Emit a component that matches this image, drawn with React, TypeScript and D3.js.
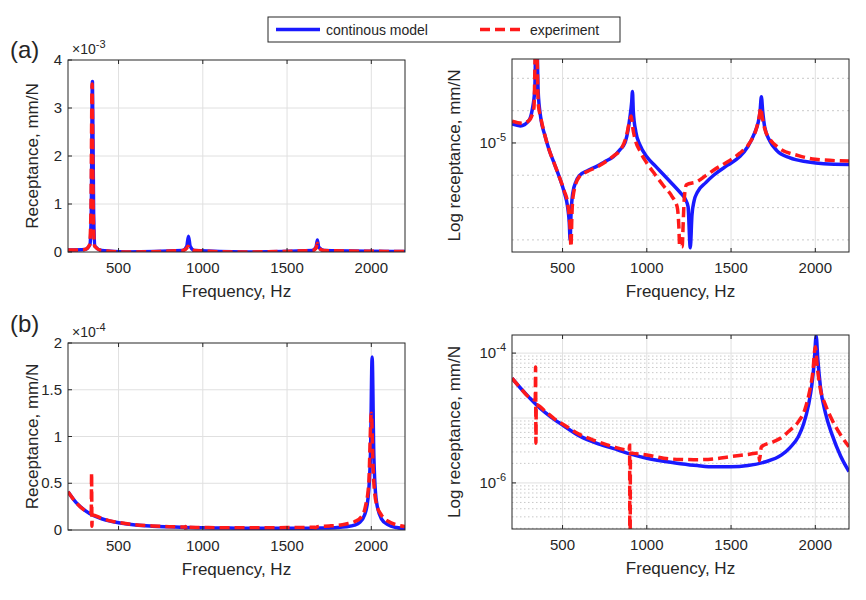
import React from "react";
import * as d3 from "d3";

// Top row (a): linear receptance (x1e-3 mm/N)
const aLinModel: [number, number][] = [[200,0.04],[300,0.05],[330,0.15],[338,0.8],[345,3.55],[352,0.8],[360,0.12],[400,0.03],[545,0.0],[880,0.03],[905,0.12],[915,0.33],[925,0.12],[950,0.03],[1250,0],[1650,0.03],[1672,0.1],[1680,0.25],[1688,0.1],[1720,0.03],[2200,0.01]];
const aLinExp: [number, number][] = [[200,0.04],[300,0.05],[328,0.15],[336,0.8],[343,3.5],[350,0.8],[358,0.12],[400,0.03],[550,0.0],[880,0.03],[905,0.08],[912,0.12],[922,0.06],[950,0.03],[1200,0],[1650,0.03],[1672,0.08],[1680,0.18],[1690,0.08],[1720,0.03],[2200,0.01]];
// Top row (a): log receptance (mm/N)
const aLogModel: [number, number][] = [[200,1.57e-5],[250,1.5e-5],[300,1.7e-5],[320,2.2e-5],[335,3.5e-5],[345,2e-4],[355,3.5e-5],[370,1.85e-5],[395,1.2e-5],[420,8.5e-6],[450,6.2e-6],[480,4.5e-6],[510,3.1e-6],[530,2.2e-6],[540,1.5e-6],[545,1.0e-6],[550,1.8e-6],[560,3.0e-6],[580,4.0e-6],[600,4.6e-6],[650,5.2e-6],[700,5.7e-6],[750,6.4e-6],[800,7.2e-6],[840,8.5e-6],[870,1.0e-5],[890,1.4e-5],[900,1.85e-5],[910,2.6e-5],[915,3.4e-5],[920,2.1e-5],[935,1.3e-5],[960,9.5e-6],[1000,7.2e-6],[1050,5.8e-6],[1100,4.7e-6],[1150,3.8e-6],[1200,3.05e-6],[1230,2.6e-6],[1245,2.2e-6],[1258,8.3e-7],[1268,1.8e-6],[1280,2.5e-6],[1300,3.1e-6],[1350,3.9e-6],[1400,4.7e-6],[1480,5.9e-6],[1550,7.2e-6],[1600,9.2e-6],[1640,1.27e-5],[1660,1.6e-5],[1672,2.1e-5],[1680,3.0e-5],[1688,2.1e-5],[1700,1.45e-5],[1730,1.05e-5],[1770,8.4e-6],[1850,7.0e-6],[1950,6.4e-6],[2050,6.1e-6],[2200,6.0e-6]];
const aLogExp: [number, number][] = [[200,1.68e-5],[260,1.6e-5],[300,1.7e-5],[330,2.3e-5],[343,2e-4],[356,2.5e-5],[370,1.85e-5],[395,1.2e-5],[420,8.5e-6],[450,6.2e-6],[480,4.5e-6],[510,3.2e-6],[530,2.4e-6],[545,1.3e-6],[550,8.5e-7],[556,1.9e-6],[565,3.0e-6],[600,4.5e-6],[650,5.1e-6],[700,5.6e-6],[800,7.3e-6],[850,8.8e-6],[880,1.2e-5],[900,1.75e-5],[908,1.9e-5],[915,1.5e-5],[930,1.1e-5],[960,8.2e-6],[1000,6.2e-6],[1050,4.7e-6],[1100,3.6e-6],[1150,2.8e-6],[1180,2.2e-6],[1190,1.4e-6],[1195,8.5e-7],[1210,8.5e-7],[1216,1.5e-6],[1222,2.6e-6],[1235,3.7e-6],[1300,4.0e-6],[1350,4.6e-6],[1400,5.3e-6],[1480,6.4e-6],[1550,7.8e-6],[1610,1.0e-5],[1650,1.4e-5],[1668,1.9e-5],[1676,2.3e-5],[1684,1.9e-5],[1700,1.4e-5],[1730,1.1e-5],[1780,9.0e-6],[1900,7.4e-6],[2000,6.8e-6],[2200,6.5e-6]];
// Bottom row (b): receptance (mm/N)
const bModel: [number, number][] = [[200,4.1e-5],[250,2.9e-5],[300,2.1e-5],[350,1.55e-5],[400,1.2e-5],[450,9.5e-6],[500,7.8e-6],[600,5.3e-6],[700,4.1e-6],[800,3.4e-6],[900,2.8e-6],[1000,2.4e-6],[1100,2.15e-6],[1200,1.98e-6],[1300,1.85e-6],[1400,1.77e-6],[1500,1.77e-6],[1600,1.85e-6],[1700,2.1e-6],[1800,2.7e-6],[1850,3.5e-6],[1900,5.2e-6],[1930,8e-6],[1960,1.6e-5],[1980,3.3e-5],[1995,8e-5],[2005,1.85e-4],[2015,8e-5],[2030,3.1e-5],[2060,1.2e-5],[2100,5.5e-6],[2150,2.6e-6],[2200,1.5e-6]];
const bExp: [number, number][] = [[200,4.1e-5],[250,2.9e-5],[300,2.1e-5],[338,1.9e-5],[340,6.1e-5],[342,4.1e-6],[344,1.6e-5],[400,1.25e-5],[450,9.8e-6],[500,8.1e-6],[600,5.6e-6],[700,4.4e-6],[800,3.6e-6],[895,3.2e-6],[898,3.8e-6],[900,1e-8],[903,2.9e-6],[920,2.85e-6],[1000,2.7e-6],[1100,2.4e-6],[1200,2.3e-6],[1300,2.28e-6],[1400,2.35e-6],[1500,2.55e-6],[1600,2.75e-6],[1665,2.9e-6],[1668,2.2e-6],[1680,3.6e-6],[1750,4.3e-6],[1800,5.0e-6],[1850,6.5e-6],[1900,8.8e-6],[1940,1.4e-5],[1965,2.5e-5],[1985,5e-5],[2000,1.25e-4],[2012,6e-5],[2030,2.8e-5],[2060,1.6e-5],[2100,9.3e-6],[2150,5.5e-6],[2200,3.6e-6]];

const xTicks = [500, 1000, 1500, 2000];
const FONT = "'Liberation Sans', Arial, sans-serif";
const BLUE = "#1a1aff";
const RED = "#ff1a1a";

type PanelProps = {
  x0: number; x1: number; y0: number; y1: number; id: string;
  log: boolean; domain: [number, number];
  model: [number, number][]; exp: [number, number][];
  yTicks: number[]; yLabels: React.ReactNode[]; yLabel: string; labelOff: number;
  major: number[]; minor: number[]; minorStyle: string; expLabel?: string;
};

function Panel(p: PanelProps) {
  const xs = d3.scaleLinear().domain([200, 2200]).range([p.x0, p.x1]);
  const ys = p.log
    ? d3.scaleLog().domain(p.domain).range([p.y1, p.y0])
    : d3.scaleLinear().domain(p.domain).range([p.y1, p.y0]);
  const line = d3.line<[number, number]>().x(d => xs(d[0])).y(d => ys(Math.max(d[1], p.log ? 1e-12 : -1))).curve(d3.curveMonotoneX);
  const cx = (p.x0 + p.x1) / 2;
  const inD = (v: number) => v > p.domain[0] && v < p.domain[1];
  return (
    <g fontFamily={FONT} fill="#262626">
      <defs><clipPath id={p.id}><rect x={p.x0} y={p.y0} width={p.x1 - p.x0} height={p.y1 - p.y0} /></clipPath></defs>
      <rect x={p.x0} y={p.y0} width={p.x1 - p.x0} height={p.y1 - p.y0} fill="#fff" />
      {p.minor.filter(inD).map((v, i) => <line key={"m" + i} x1={p.x0} x2={p.x1} y1={ys(v)} y2={ys(v)} stroke="#bbb" strokeWidth={0.8} strokeDasharray={p.minorStyle} />)}
      {xTicks.map(t => <line key={"gx" + t} x1={xs(t)} x2={xs(t)} y1={p.y0} y2={p.y1} stroke="#e0e0e0" strokeWidth={1} />)}
      {p.major.filter(inD).map((v, i) => <line key={"g" + i} x1={p.x0} x2={p.x1} y1={ys(v)} y2={ys(v)} stroke="#e0e0e0" strokeWidth={1} />)}
      <g clipPath={`url(#${p.id})`}>
        <path d={line(p.model) || ""} fill="none" stroke={BLUE} strokeWidth={3.5} strokeLinejoin="round" />
        <path d={line(p.exp) || ""} fill="none" stroke={RED} strokeWidth={3.5} strokeDasharray="10,5" />
      </g>
      <rect x={p.x0} y={p.y0} width={p.x1 - p.x0} height={p.y1 - p.y0} fill="none" stroke="#262626" strokeWidth={1} />
      {xTicks.map(t => <g key={"tx" + t}>
        <line x1={xs(t)} x2={xs(t)} y1={p.y1} y2={p.y1 - 4} stroke="#262626" />
        <line x1={xs(t)} x2={xs(t)} y1={p.y0} y2={p.y0 + 4} stroke="#262626" />
        <text x={xs(t)} y={p.y1 + 21} textAnchor="middle" fontSize={15}>{t}</text>
      </g>)}
      {p.yTicks.map((t, i) => <g key={"ty" + i}>
        <line x1={p.x0} x2={p.x0 + 4} y1={ys(t)} y2={ys(t)} stroke="#262626" />
        <text x={p.x0 - 6} y={ys(t) + 5} textAnchor="end" fontSize={15}>{p.yLabels[i]}</text>
      </g>)}
      <text x={cx} y={p.y1 + 45} textAnchor="middle" fontSize={17}>Frequency, Hz</text>
      <text transform={`translate(${p.x0 - p.labelOff},${(p.y0 + p.y1) / 2}) rotate(-90)`} textAnchor="middle" fontSize={17}>{p.yLabel}</text>
      {p.expLabel && <text x={p.x0 + 4} y={p.y0 - 6} fontSize={14}>×10<tspan dy={-6} fontSize={11}>{p.expLabel}</tspan></text>}
    </g>
  );
}

const pow = (e: string) => <>10<tspan dy={-7} fontSize={11}>{e}</tspan></>;

export default function App() {
  const aMinor = [-4.333, -4.667, -5.333, -5.667, -6.0].map(e => Math.pow(10, e));
  const bMinor: number[] = [];
  for (let d = -7; d <= -4; d++) for (let k = 2; k <= 9; k++) bMinor.push(k * Math.pow(10, d));
  return (
    <svg width={850} height={584} style={{ display: "block" }}>
      <rect width={850} height={584} fill="#fff" />
      <g fontFamily={FONT} transform="translate(-8,-8)">
        <rect x={268} y={17} width={352} height={25} fill="#fff" stroke="#262626" />
        <line x1={276} x2={320} y1={29.5} y2={29.5} stroke={BLUE} strokeWidth={3.5} />
        <text x={326} y={35} fontSize={14} fill="#262626">continous model</text>
        <line x1={480} x2={524} y1={29.5} y2={29.5} stroke={RED} strokeWidth={3.5} strokeDasharray="10,5" />
        <text x={530} y={35} fontSize={14} fill="#262626">experiment</text>
        <text x={10} y={58} fontSize={24} fill="#262626">(a)</text>
        <text x={10} y={332} fontSize={24} fill="#262626">(b)</text>
        <Panel id="c1" x0={68} x1={405} y0={60} y1={252} log={false} domain={[0, 4]} model={aLinModel} exp={aLinExp}
          yTicks={[0, 1, 2, 3, 4]} yLabels={["0", "1", "2", "3", "4"]} yLabel="Receptance, mm/N" labelOff={30}
          major={[1, 2, 3]} minor={[]} minorStyle="" expLabel="-3" />
        <Panel id="c2" x0={512} x1={849} y0={59} y1={252} log={true} domain={[7.5e-7, 7.35e-5]} model={aLogModel} exp={aLogExp}
          yTicks={[1e-5]} yLabels={[pow("-5")]} yLabel="Log receptance, mm/N" labelOff={52}
          major={[1e-5]} minor={aMinor} minorStyle="2,3" />
        <Panel id="c3" x0={68} x1={405} y0={343} y1={530} log={false} domain={[0, 2e-4]} model={bModel} exp={bExp}
          yTicks={[0, 0.5e-4, 1e-4, 1.5e-4, 2e-4]} yLabels={["0", "0.5", "1", "1.5", "2"]} yLabel="Receptance, mm/N" labelOff={30}
          major={[0.5e-4, 1e-4, 1.5e-4]} minor={[]} minorStyle="" expLabel="-4" />
        <Panel id="c4" x0={512} x1={849} y0={335} y1={529} log={true} domain={[1.95e-7, 1.9e-4]} model={bModel} exp={bExp}
          yTicks={[1e-4, 1e-6]} yLabels={[pow("-4"), pow("-6")]} yLabel="Log receptance, mm/N" labelOff={52}
          major={[1e-4, 1e-5, 1e-6]} minor={bMinor} minorStyle="1.5,2.5" />
      </g>
    </svg>
  );
}
